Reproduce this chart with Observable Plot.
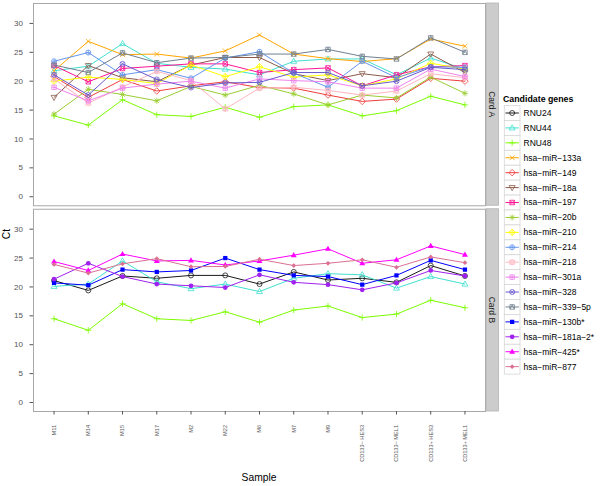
<!DOCTYPE html>
<html>
<head>
<meta charset="utf-8">
<script src="https://cdn.jsdelivr.net/npm/d3@7"></script>
<script src="https://cdn.jsdelivr.net/npm/@observablehq/plot@0.6"></script>
<style>
  body { margin: 0; background: #fff; }
  #chart { width: 600px; height: 486px; }
</style>
</head>
<body>
<div id="chart"></div>
<script>
// ---------- data ----------
const samples = ["M11", "M14", "M15", "M17", "M2", "M22", "M6", "M7", "M9",
  "CD133\u2212 HES3", "CD133\u2212 MEL1", "CD133+ HES3", "CD133+ MEL1"];
const cards = ["Card A", "Card B"];
const yTicks = [0, 5, 10, 15, 20, 25, 30];
const legendTitle = "Candidate genes";
const seriesNames = ["RNU24", "RNU44", "RNU48", "hsa\u2212miR\u2212133a", "hsa\u2212miR\u2212149",
  "hsa\u2212miR\u221218a", "hsa\u2212miR\u2212197", "hsa\u2212miR\u221220b", "hsa\u2212miR\u2212210",
  "hsa\u2212miR\u2212214", "hsa\u2212miR\u2212218", "hsa\u2212miR\u2212301a", "hsa\u2212miR\u2212328",
  "hsa\u2212miR\u2212339\u22125p", "hsa\u2212miR\u2212130b*", "hsa\u2212miR\u2212181a\u22122*",
  "hsa\u2212miR\u2212425*", "hsa\u2212miR\u2212877"];
const seriesColors = ["#1a1a1a", "#40E0D0", "#7CFC00", "#FFA500", "#F03C3C", "#8B5A4A", "#FF1493",
  "#9ACD32", "#FFFF00", "#6495ED", "#FFB6C1", "#EE82EE", "#6A5ACD", "#708090", "#0000FF",
  "#A020F0", "#FF00FF", "#DB7093"];

// Card A (Ct by sample)
const a_RNU44   = [21.8, 22.6, 26.5, 23.1, 22.4, 22.1, 21.1, 23.45, 23.85, 23.85, 21.1, 24.0, 22.1];
const a_RNU48   = [14.0, 12.4, 16.8, 14.2, 13.9, 15.5, 13.75, 15.6, 15.9, 14.0, 14.9, 17.4, 15.9];
const a_miR133a = [21.8, 26.9, 24.6, 24.7, 24.0, 25.25, 28.0, 24.7, 23.9, 23.4, 23.9, 27.3, 26.05];
const a_miR149  = [20.8, 17.2, 20.3, 18.3, 19.2, 19.9, 18.9, 18.8, 17.6, 16.5, 16.9, 20.5, 20.0];
const a_miR18a  = [17.2, 22.7, 20.6, 19.9, 22.8, 24.1, 24.1, 21.3, 20.1, 21.3, 20.6, 24.7, 21.5];
const a_miR197  = [22.7, 19.9, 22.2, 22.6, 23.0, 23.0, 21.5, 22.0, 22.3, 19.2, 21.1, 22.5, 22.7];
const a_miR20b  = [14.3, 18.6, 17.7, 16.6, 19.1, 17.6, 19.3, 17.8, 15.9, 17.6, 17.1, 20.7, 17.9];
const a_miR210  = [20.0, 20.7, 20.3, 19.6, 22.8, 20.8, 22.5, 20.7, 21.1, 19.2, 20.4, 23.1, 22.1];
const a_miR214  = [23.45, 24.96, 21.1, 22.0, 20.5, 24.0, 25.1, 21.4, 18.95, 23.45, 20.6, 22.5, 22.4];
const a_miR218  = [20.4, 16.2, 19.0, 21.7, 20.1, 15.2, 18.8, 18.95, 18.4, 17.6, 18.3, 21.3, 20.6];
const a_miR301a = [18.95, 16.6, 18.8, 19.5, 20.0, 18.8, 20.4, 20.1, 19.9, 18.8, 18.8, 22.1, 20.8];
const a_miR328  = [21.1, 17.6, 23.0, 20.3, 18.9, 19.7, 19.8, 21.5, 21.5, 19.2, 20.0, 22.4, 22.0];
const a_miR339  = [22.8, 21.5, 24.9, 23.2, 24.0, 24.1, 24.7, 24.7, 25.5, 24.3, 23.85, 27.5, 25.0];

// Card B (Ct by sample)
const b_RNU24    = [21.1, 19.4, 21.9, 21.5, 22.0, 22.0, 20.5, 22.6, 21.2, 21.5, 20.8, 23.7, 21.9];
const b_RNU44    = [20.1, 20.5, 24.5, 20.9, 19.7, 20.5, 19.2, 21.5, 22.3, 22.1, 19.8, 21.8, 20.5];
const b_RNU48    = [14.5, 12.5, 17.1, 14.5, 14.2, 15.7, 13.9, 16.0, 16.7, 14.7, 15.3, 17.7, 16.4];
const b_miR130b  = [20.7, 20.3, 23.0, 22.6, 22.85, 25.0, 23.0, 22.0, 21.8, 20.4, 22.0, 24.6, 23.0];
const b_miR181a2 = [21.35, 24.1, 21.8, 20.5, 20.2, 19.9, 22.1, 20.8, 20.4, 19.5, 20.7, 22.85, 21.9];
const b_miR425   = [24.4, 22.85, 25.7, 24.5, 24.6, 23.8, 24.5, 25.5, 26.6, 24.1, 24.7, 27.1, 25.6];
const b_miR877   = [23.9, 22.4, 24.0, 24.9, 23.5, 23.55, 24.8, 23.7, 24.1, 24.7, 23.4, 25.2, 24.2];

const cardASeries = [[1, a_RNU44], [2, a_RNU48], [3, a_miR133a], [4, a_miR149], [5, a_miR18a],
  [6, a_miR197], [7, a_miR20b], [8, a_miR210], [9, a_miR214], [10, a_miR218], [11, a_miR301a],
  [12, a_miR328], [13, a_miR339]];
const cardBSeries = [[0, b_RNU24], [1, b_RNU44], [2, b_RNU48], [14, b_miR130b], [15, b_miR181a2],
  [16, b_miR425], [17, b_miR877]];

// ---------- symbols (R pch-like) ----------
function sym(fn) { return { draw(ctx, size) { fn(ctx, Math.sqrt(size / Math.PI)); } }; }
function circ(c, r) { c.moveTo(r, 0); c.arc(0, 0, r, 0, 2 * Math.PI); }
function plusP(c, r) { c.moveTo(-r, 0); c.lineTo(r, 0); c.moveTo(0, -r); c.lineTo(0, r); }
function timesP(c, r) { c.moveTo(-r, -r); c.lineTo(r, r); c.moveTo(-r, r); c.lineTo(r, -r); }
function sqP(c, s) { c.moveTo(-s, -s); c.lineTo(s, -s); c.lineTo(s, s); c.lineTo(-s, s); c.closePath(); }
function diaP(c, d) { c.moveTo(0, -d); c.lineTo(d, 0); c.lineTo(0, d); c.lineTo(-d, 0); c.closePath(); }
function triU(c, h) { c.moveTo(0, -h); c.lineTo(h * 0.95, h * 0.65); c.lineTo(-h * 0.95, h * 0.65); c.closePath(); }
function triD(c, h) { c.moveTo(0, h); c.lineTo(h * 0.95, -h * 0.65); c.lineTo(-h * 0.95, -h * 0.65); c.closePath(); }
const symbols = [
  sym((c, r) => circ(c, r)),                                   // 1 circle
  sym((c, r) => triU(c, r * 1.25)),                            // 2 triangle
  sym((c, r) => plusP(c, r * 1.25)),                           // 3 plus
  sym((c, r) => timesP(c, r * 0.95)),                          // 4 cross
  sym((c, r) => diaP(c, r * 1.3)),                             // 5 diamond
  sym((c, r) => triD(c, r * 1.25)),                            // 6 triangle down
  sym((c, r) => { sqP(c, r * 0.9); timesP(c, r * 0.9); }),     // 7 square x
  sym((c, r) => { plusP(c, r * 1.2); timesP(c, r * 0.85); }),  // 8 asterisk
  sym((c, r) => { diaP(c, r * 1.3); plusP(c, r * 1.3); }),     // 9 diamond plus
  sym((c, r) => { circ(c, r); plusP(c, r); }),                 // 10 circle plus
  sym((c, r) => { triU(c, r * 1.2); triD(c, r * 1.2); }),      // 11 star of David
  sym((c, r) => { sqP(c, r * 0.9); plusP(c, r * 0.9); }),      // 12 square plus
  sym((c, r) => { circ(c, r); timesP(c, r * 0.7); }),          // 13 circle x
  sym((c, r) => { const s = r * 0.9; sqP(c, s); c.moveTo(-s, s); c.lineTo(0, -s); c.lineTo(s, s); }), // 14
  sym((c, r) => sqP(c, r * 0.85)),                             // 15 filled square
  sym((c, r) => circ(c, r * 0.95)),                            // 16 filled circle
  sym((c, r) => triU(c, r * 1.25)),                            // 17 filled triangle
  sym((c, r) => diaP(c, r * 0.95))                             // 18 filled diamond
];
const filled = (i) => i >= 14;

// ---------- table ----------
const rows = [];
function addCard(card, list) {
  for (const [idx, vals] of list) {
    samples.forEach((s, j) => rows.push({ card, idx, series: seriesNames[idx], sample: s, ct: vals[j] }));
  }
}
addCard(cards[0], cardASeries);
addCard(cards[1], cardBSeries);

// ---------- marks ----------
const marks = [
  Plot.frame({ stroke: "#a8a8a8", strokeWidth: 1 }),
  Plot.axisY({ ticks: yTicks, tickSize: 3.5, tickPadding: 7, fontSize: 8, color: "#555", label: null }),
  Plot.axisX({ tickRotate: -90, tickSize: 3.5, tickPadding: 10, fontSize: 5.6, color: "#555", label: null })
];
seriesNames.forEach((name, i) => {
  const d = rows.filter(r => r.idx === i);
  const col = seriesColors[i];
  marks.push(Plot.line(d, { x: "sample", y: "ct", fy: "card", stroke: col, strokeWidth: 1 }));
  marks.push(Plot.dot(d, {
    x: "sample", y: "ct", fy: "card", symbol: symbols[i], r: 2.5,
    fill: filled(i) ? col : "none", stroke: filled(i) ? "none" : col, strokeWidth: 0.8
  }));
});

const W = 600, H = 486, ML = 33, MR = 115, MT = 3, MB = 75;
const chart = Plot.plot({
  width: W, height: H,
  marginLeft: ML, marginRight: MR, marginTop: MT, marginBottom: MB,
  style: { fontFamily: "'Liberation Sans', Arial, sans-serif", background: "#fff", overflow: "visible" },
  x: { type: "point", domain: samples, padding: 0.6, round: false },
  y: { domain: [-1.56, 33.45] },
  fy: { domain: cards, paddingInner: 0.017, paddingOuter: 0, axis: null, round: false, label: null },
  marks
});
document.getElementById("chart").appendChild(chart);

// ---------- strips, titles, legend ----------
const svg = d3.select(chart);
const font = "'Liberation Sans', Arial, sans-serif";
let fyS = null;
try { fyS = chart.scale("fy"); } catch (e) { fyS = null; }
const n = cards.length, pin = 0.017;
const step = (H - MB - MT) / (n - pin);
const bw = (fyS && fyS.bandwidth) ? fyS.bandwidth : step * (1 - pin);
const bandTop = (c, k) => (fyS && fyS.apply) ? fyS.apply(c) : MT + k * step;

const panelRight = W - MR;
cards.forEach((c, k) => {
  const y0 = bandTop(c, k);
  svg.append("rect").attr("x", panelRight + 1).attr("y", y0).attr("width", 12.5).attr("height", bw)
    .attr("fill", "#cccccc").attr("stroke", "#b3b3b3").attr("stroke-width", 0.8);
  svg.append("text").attr("transform", `translate(${panelRight + 7.3},${y0 + bw / 2}) rotate(90)`)
    .attr("text-anchor", "middle").attr("dy", "0.35em")
    .attr("font-family", font).attr("font-size", 8.5).attr("fill", "#1a1a1a").text(c);
});

svg.append("text").attr("transform", "translate(9.5,234) rotate(-90)")
  .attr("text-anchor", "middle").attr("font-family", font).attr("font-size", 10.3)
  .attr("fill", "#000").text("Ct");
svg.append("text").attr("x", (ML + panelRight) / 2).attr("y", 480.5)
  .attr("text-anchor", "middle").attr("font-family", font).attr("font-size", 10.3)
  .attr("fill", "#000").text("Sample");

// legend
const lg = svg.append("g").attr("text-anchor", "start");
const keyX = 504.3, keyW = 15.7, keyH = 14.92, firstY = 113.0;
lg.append("text").attr("x", 503).attr("y", firstY - keyH / 2 - 4).attr("text-anchor", "start")
  .attr("font-family", font).attr("font-size", 8.8).attr("font-weight", "bold")
  .attr("fill", "#000").text(legendTitle);
seriesNames.forEach((name, i) => {
  const cy = firstY + i * keyH;
  lg.append("rect").attr("x", keyX).attr("y", cy - keyH / 2).attr("width", keyW).attr("height", keyH)
    .attr("fill", "#fff").attr("stroke", "#d6d6d6").attr("stroke-width", 0.8);
  lg.append("line").attr("x1", keyX + 1.2).attr("x2", keyX + keyW - 1.2).attr("y1", cy).attr("y2", cy)
    .attr("stroke", seriesColors[i]).attr("stroke-width", 1);
  const p = d3.symbol(symbols[i], Math.PI * 2.5 * 2.5)();
  lg.append("path").attr("d", p).attr("transform", `translate(${keyX + keyW / 2},${cy})`)
    .attr("fill", filled(i) ? seriesColors[i] : "none")
    .attr("stroke", filled(i) ? "none" : seriesColors[i]).attr("stroke-width", 0.8);
  lg.append("text").attr("x", 523.5).attr("y", cy).attr("dy", "0.35em").attr("text-anchor", "start")
    .attr("font-family", font).attr("font-size", 8.5).attr("fill", "#000").text(name);
});
</script>
</body>
</html>
